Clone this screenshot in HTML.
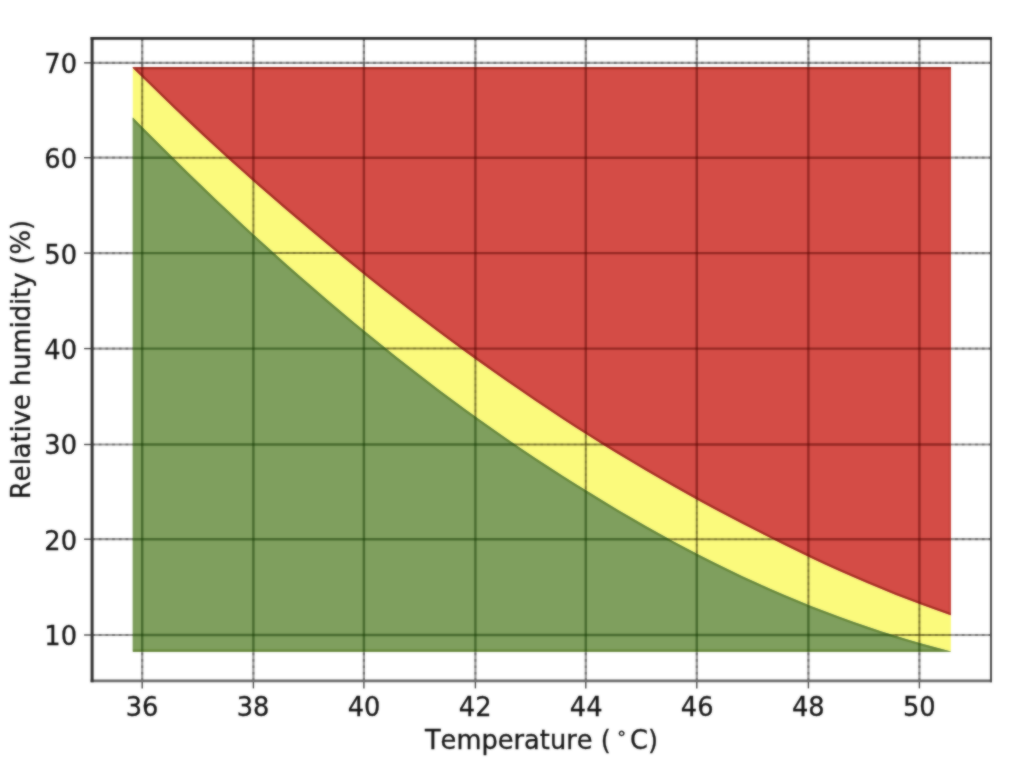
<!DOCTYPE html>
<html lang="en">
<head>
<meta charset="utf-8">
<title>Relative humidity vs temperature</title>
<style>
  html, body { margin: 0; padding: 0; background: #ffffff; }
  body { width: 1024px; height: 768px; overflow: hidden; position: relative; }
  svg { position: absolute; left: 0; top: 0; display: block; }
  text { font-family: "DejaVu Sans", "Liberation Sans", sans-serif; fill: #141414; stroke: #141414; stroke-width: 0.3px; font-kerning: none; }
  .tick { font-size: 25.7px; }
  .lbl { font-size: 25.7px; }
  .gb line { stroke: #000; stroke-opacity: 0.42; stroke-width: 2.2; }
  .gd line { stroke: #000; stroke-opacity: 0.26; stroke-width: 2.2; }
  .gd line.h { stroke-dasharray: 2.7 3.99; }
  .gd line.v { stroke-dasharray: 2.6 3.8; }
  .gy line { stroke: #3c3600; stroke-opacity: 0.58; stroke-width: 2; }
  .gy line.h { stroke: #000; stroke-opacity: 0.14; stroke-dasharray: 2.7 3.99; }
  .gy line.v { stroke: #000; stroke-opacity: 0.14; stroke-dasharray: 2.6 3.8; }
  .gr line { stroke: #560400; stroke-opacity: 0.50; stroke-width: 2.4; }
  .gg line { stroke: #123800; stroke-opacity: 0.50; stroke-width: 2.4; }
  .ticks line { stroke: #444; stroke-width: 1.4; }
  .edges path { fill: none; stroke-linejoin: miter; }
</style>
</head>
<body>
<svg width="1024" height="768" viewBox="0 0 1024 768">
<defs>
<filter id="soft" filterUnits="userSpaceOnUse" x="0" y="0" width="1024" height="768" color-interpolation-filters="sRGB">
<feGaussianBlur in="SourceGraphic" stdDeviation="0.85" result="b"/>
<feComposite in="SourceGraphic" in2="b" operator="arithmetic" k1="0" k2="0.4" k3="0.6" k4="0"/>
</filter>
<clipPath id="cr"><path d="M132.8 67.0 L950.9 67.0 L950.9 615.3 L937.0 610.3 L923.2 605.3 L909.3 600.1 L895.4 594.7 L881.6 589.1 L867.7 583.3 L853.8 577.3 L840.0 571.2 L826.1 564.9 L812.2 558.4 L798.4 551.7 L784.5 545.0 L770.6 538.1 L756.8 531.1 L742.9 524.0 L729.0 516.8 L715.2 509.4 L701.3 501.9 L687.4 494.2 L673.6 486.5 L659.7 478.6 L645.8 470.5 L632.0 462.3 L618.1 454.0 L604.2 445.5 L590.4 436.8 L576.5 428.0 L562.6 419.0 L548.8 409.8 L534.9 400.5 L521.1 391.1 L507.2 381.5 L493.3 371.8 L479.5 361.9 L465.6 351.9 L451.7 341.7 L437.9 331.4 L424.0 321.0 L410.1 310.4 L396.3 299.7 L382.4 288.9 L368.5 277.9 L354.7 266.7 L340.8 255.4 L326.9 244.0 L313.1 232.5 L299.2 220.8 L285.3 209.0 L271.5 197.0 L257.6 184.9 L243.7 172.6 L229.9 160.2 L216.0 147.5 L202.1 134.7 L188.3 121.7 L174.4 108.5 L160.5 95.1 L146.7 81.6 L132.8 67.9 Z"/></clipPath>
<clipPath id="cg"><path d="M132.8 117.4 L146.7 131.5 L160.5 145.3 L174.4 159.1 L188.3 172.7 L202.1 186.1 L216.0 199.4 L229.9 212.5 L243.7 225.4 L257.6 238.2 L271.5 250.8 L285.3 263.3 L299.2 275.6 L313.1 287.6 L326.9 299.6 L340.8 311.3 L354.7 322.9 L368.5 334.3 L382.4 345.6 L396.3 356.7 L410.1 367.6 L424.0 378.3 L437.9 388.9 L451.7 399.3 L465.6 409.5 L479.5 419.5 L493.3 429.3 L507.2 438.9 L521.1 448.4 L534.9 457.7 L548.8 466.8 L562.6 475.7 L576.5 484.5 L590.4 493.1 L604.2 501.6 L618.1 509.9 L632.0 518.0 L645.8 526.0 L659.7 533.8 L673.6 541.4 L687.4 548.8 L701.3 556.0 L715.2 563.0 L729.0 569.8 L742.9 576.4 L756.8 582.8 L770.6 589.0 L784.5 594.9 L798.4 600.8 L812.2 606.4 L826.1 611.8 L840.0 617.0 L853.8 622.0 L867.7 626.8 L881.6 631.4 L895.4 635.8 L909.3 640.0 L923.2 644.0 L937.0 647.8 L950.9 651.4 L950.9 651.8 L132.8 651.8 Z"/></clipPath>
<clipPath id="cy"><path d="M132.8 67.9 L146.7 81.6 L160.5 95.1 L174.4 108.5 L188.3 121.7 L202.1 134.7 L216.0 147.5 L229.9 160.2 L243.7 172.6 L257.6 184.9 L271.5 197.0 L285.3 209.0 L299.2 220.8 L313.1 232.5 L326.9 244.0 L340.8 255.4 L354.7 266.7 L368.5 277.9 L382.4 288.9 L396.3 299.7 L410.1 310.4 L424.0 321.0 L437.9 331.4 L451.7 341.7 L465.6 351.9 L479.5 361.9 L493.3 371.8 L507.2 381.5 L521.1 391.1 L534.9 400.5 L548.8 409.8 L562.6 419.0 L576.5 428.0 L590.4 436.8 L604.2 445.5 L618.1 454.0 L632.0 462.3 L645.8 470.5 L659.7 478.6 L673.6 486.5 L687.4 494.2 L701.3 501.9 L715.2 509.4 L729.0 516.8 L742.9 524.0 L756.8 531.1 L770.6 538.1 L784.5 545.0 L798.4 551.7 L812.2 558.4 L826.1 564.9 L840.0 571.2 L853.8 577.3 L867.7 583.3 L881.6 589.1 L895.4 594.7 L909.3 600.1 L923.2 605.3 L937.0 610.3 L950.9 615.3 L950.9 651.4 L937.0 647.8 L923.2 644.0 L909.3 640.0 L895.4 635.8 L881.6 631.4 L867.7 626.8 L853.8 622.0 L840.0 617.0 L826.1 611.8 L812.2 606.4 L798.4 600.8 L784.5 594.9 L770.6 589.0 L756.8 582.8 L742.9 576.4 L729.0 569.8 L715.2 563.0 L701.3 556.0 L687.4 548.8 L673.6 541.4 L659.7 533.8 L645.8 526.0 L632.0 518.0 L618.1 509.9 L604.2 501.6 L590.4 493.1 L576.5 484.5 L562.6 475.7 L548.8 466.8 L534.9 457.7 L521.1 448.4 L507.2 438.9 L493.3 429.3 L479.5 419.5 L465.6 409.5 L451.7 399.3 L437.9 388.9 L424.0 378.3 L410.1 367.6 L396.3 356.7 L382.4 345.6 L368.5 334.3 L354.7 322.9 L340.8 311.3 L326.9 299.6 L313.1 287.6 L299.2 275.6 L285.3 263.3 L271.5 250.8 L257.6 238.2 L243.7 225.4 L229.9 212.5 L216.0 199.4 L202.1 186.1 L188.3 172.7 L174.4 159.1 L160.5 145.3 L146.7 131.5 L132.8 117.4 Z"/></clipPath>
</defs>
<g filter="url(#soft)">
<rect x="0" y="0" width="1024" height="768" fill="#ffffff"/>
<g class="gb">
<line x1="142.20" y1="680.9" x2="142.20" y2="38.3"/>
<line x1="253.40" y1="680.9" x2="253.40" y2="38.3"/>
<line x1="363.90" y1="680.9" x2="363.90" y2="38.3"/>
<line x1="475.40" y1="680.9" x2="475.40" y2="38.3"/>
<line x1="585.80" y1="680.9" x2="585.80" y2="38.3"/>
<line x1="696.80" y1="680.9" x2="696.80" y2="38.3"/>
<line x1="808.40" y1="680.9" x2="808.40" y2="38.3"/>
<line x1="919.40" y1="680.9" x2="919.40" y2="38.3"/>
<line x1="92.1" y1="62.85" x2="991.0" y2="62.85"/>
<line x1="92.1" y1="157.70" x2="991.0" y2="157.70"/>
<line x1="92.1" y1="253.10" x2="991.0" y2="253.10"/>
<line x1="92.1" y1="348.60" x2="991.0" y2="348.60"/>
<line x1="92.1" y1="444.50" x2="991.0" y2="444.50"/>
<line x1="92.1" y1="539.20" x2="991.0" y2="539.20"/>
<line x1="92.1" y1="635.00" x2="991.0" y2="635.00"/>
</g>
<g class="gd">
<line class="v" x1="142.20" y1="680.9" x2="142.20" y2="38.3"/>
<line class="v" x1="253.40" y1="680.9" x2="253.40" y2="38.3"/>
<line class="v" x1="363.90" y1="680.9" x2="363.90" y2="38.3"/>
<line class="v" x1="475.40" y1="680.9" x2="475.40" y2="38.3"/>
<line class="v" x1="585.80" y1="680.9" x2="585.80" y2="38.3"/>
<line class="v" x1="696.80" y1="680.9" x2="696.80" y2="38.3"/>
<line class="v" x1="808.40" y1="680.9" x2="808.40" y2="38.3"/>
<line class="v" x1="919.40" y1="680.9" x2="919.40" y2="38.3"/>
<line class="h" x1="92.1" y1="62.85" x2="991.0" y2="62.85"/>
<line class="h" x1="92.1" y1="157.70" x2="991.0" y2="157.70"/>
<line class="h" x1="92.1" y1="253.10" x2="991.0" y2="253.10"/>
<line class="h" x1="92.1" y1="348.60" x2="991.0" y2="348.60"/>
<line class="h" x1="92.1" y1="444.50" x2="991.0" y2="444.50"/>
<line class="h" x1="92.1" y1="539.20" x2="991.0" y2="539.20"/>
<line class="h" x1="92.1" y1="635.00" x2="991.0" y2="635.00"/>
</g>
<path d="M132.8 67.9 L146.7 81.6 L160.5 95.1 L174.4 108.5 L188.3 121.7 L202.1 134.7 L216.0 147.5 L229.9 160.2 L243.7 172.6 L257.6 184.9 L271.5 197.0 L285.3 209.0 L299.2 220.8 L313.1 232.5 L326.9 244.0 L340.8 255.4 L354.7 266.7 L368.5 277.9 L382.4 288.9 L396.3 299.7 L410.1 310.4 L424.0 321.0 L437.9 331.4 L451.7 341.7 L465.6 351.9 L479.5 361.9 L493.3 371.8 L507.2 381.5 L521.1 391.1 L534.9 400.5 L548.8 409.8 L562.6 419.0 L576.5 428.0 L590.4 436.8 L604.2 445.5 L618.1 454.0 L632.0 462.3 L645.8 470.5 L659.7 478.6 L673.6 486.5 L687.4 494.2 L701.3 501.9 L715.2 509.4 L729.0 516.8 L742.9 524.0 L756.8 531.1 L770.6 538.1 L784.5 545.0 L798.4 551.7 L812.2 558.4 L826.1 564.9 L840.0 571.2 L853.8 577.3 L867.7 583.3 L881.6 589.1 L895.4 594.7 L909.3 600.1 L923.2 605.3 L937.0 610.3 L950.9 615.3 L950.9 651.4 L937.0 647.8 L923.2 644.0 L909.3 640.0 L895.4 635.8 L881.6 631.4 L867.7 626.8 L853.8 622.0 L840.0 617.0 L826.1 611.8 L812.2 606.4 L798.4 600.8 L784.5 594.9 L770.6 589.0 L756.8 582.8 L742.9 576.4 L729.0 569.8 L715.2 563.0 L701.3 556.0 L687.4 548.8 L673.6 541.4 L659.7 533.8 L645.8 526.0 L632.0 518.0 L618.1 509.9 L604.2 501.6 L590.4 493.1 L576.5 484.5 L562.6 475.7 L548.8 466.8 L534.9 457.7 L521.1 448.4 L507.2 438.9 L493.3 429.3 L479.5 419.5 L465.6 409.5 L451.7 399.3 L437.9 388.9 L424.0 378.3 L410.1 367.6 L396.3 356.7 L382.4 345.6 L368.5 334.3 L354.7 322.9 L340.8 311.3 L326.9 299.6 L313.1 287.6 L299.2 275.6 L285.3 263.3 L271.5 250.8 L257.6 238.2 L243.7 225.4 L229.9 212.5 L216.0 199.4 L202.1 186.1 L188.3 172.7 L174.4 159.1 L160.5 145.3 L146.7 131.5 L132.8 117.4 Z" fill="#fbfa7c"/>
<g class="gy" clip-path="url(#cy)">
<line x1="142.20" y1="680.9" x2="142.20" y2="38.3"/><line class="v" x1="142.20" y1="680.9" x2="142.20" y2="38.3"/>
<line x1="253.40" y1="680.9" x2="253.40" y2="38.3"/><line class="v" x1="253.40" y1="680.9" x2="253.40" y2="38.3"/>
<line x1="363.90" y1="680.9" x2="363.90" y2="38.3"/><line class="v" x1="363.90" y1="680.9" x2="363.90" y2="38.3"/>
<line x1="475.40" y1="680.9" x2="475.40" y2="38.3"/><line class="v" x1="475.40" y1="680.9" x2="475.40" y2="38.3"/>
<line x1="585.80" y1="680.9" x2="585.80" y2="38.3"/><line class="v" x1="585.80" y1="680.9" x2="585.80" y2="38.3"/>
<line x1="696.80" y1="680.9" x2="696.80" y2="38.3"/><line class="v" x1="696.80" y1="680.9" x2="696.80" y2="38.3"/>
<line x1="808.40" y1="680.9" x2="808.40" y2="38.3"/><line class="v" x1="808.40" y1="680.9" x2="808.40" y2="38.3"/>
<line x1="919.40" y1="680.9" x2="919.40" y2="38.3"/><line class="v" x1="919.40" y1="680.9" x2="919.40" y2="38.3"/>
<line x1="92.1" y1="62.85" x2="991.0" y2="62.85"/><line class="h" x1="92.1" y1="62.85" x2="991.0" y2="62.85"/>
<line x1="92.1" y1="157.70" x2="991.0" y2="157.70"/><line class="h" x1="92.1" y1="157.70" x2="991.0" y2="157.70"/>
<line x1="92.1" y1="253.10" x2="991.0" y2="253.10"/><line class="h" x1="92.1" y1="253.10" x2="991.0" y2="253.10"/>
<line x1="92.1" y1="348.60" x2="991.0" y2="348.60"/><line class="h" x1="92.1" y1="348.60" x2="991.0" y2="348.60"/>
<line x1="92.1" y1="444.50" x2="991.0" y2="444.50"/><line class="h" x1="92.1" y1="444.50" x2="991.0" y2="444.50"/>
<line x1="92.1" y1="539.20" x2="991.0" y2="539.20"/><line class="h" x1="92.1" y1="539.20" x2="991.0" y2="539.20"/>
<line x1="92.1" y1="635.00" x2="991.0" y2="635.00"/><line class="h" x1="92.1" y1="635.00" x2="991.0" y2="635.00"/>
</g>
<path d="M132.8 117.4 L146.7 131.5 L160.5 145.3 L174.4 159.1 L188.3 172.7 L202.1 186.1 L216.0 199.4 L229.9 212.5 L243.7 225.4 L257.6 238.2 L271.5 250.8 L285.3 263.3 L299.2 275.6 L313.1 287.6 L326.9 299.6 L340.8 311.3 L354.7 322.9 L368.5 334.3 L382.4 345.6 L396.3 356.7 L410.1 367.6 L424.0 378.3 L437.9 388.9 L451.7 399.3 L465.6 409.5 L479.5 419.5 L493.3 429.3 L507.2 438.9 L521.1 448.4 L534.9 457.7 L548.8 466.8 L562.6 475.7 L576.5 484.5 L590.4 493.1 L604.2 501.6 L618.1 509.9 L632.0 518.0 L645.8 526.0 L659.7 533.8 L673.6 541.4 L687.4 548.8 L701.3 556.0 L715.2 563.0 L729.0 569.8 L742.9 576.4 L756.8 582.8 L770.6 589.0 L784.5 594.9 L798.4 600.8 L812.2 606.4 L826.1 611.8 L840.0 617.0 L853.8 622.0 L867.7 626.8 L881.6 631.4 L895.4 635.8 L909.3 640.0 L923.2 644.0 L937.0 647.8 L950.9 651.4 L950.9 651.8 L132.8 651.8 Z" fill="#7f9f5e"/>
<path d="M132.8 67.0 L950.9 67.0 L950.9 615.3 L937.0 610.3 L923.2 605.3 L909.3 600.1 L895.4 594.7 L881.6 589.1 L867.7 583.3 L853.8 577.3 L840.0 571.2 L826.1 564.9 L812.2 558.4 L798.4 551.7 L784.5 545.0 L770.6 538.1 L756.8 531.1 L742.9 524.0 L729.0 516.8 L715.2 509.4 L701.3 501.9 L687.4 494.2 L673.6 486.5 L659.7 478.6 L645.8 470.5 L632.0 462.3 L618.1 454.0 L604.2 445.5 L590.4 436.8 L576.5 428.0 L562.6 419.0 L548.8 409.8 L534.9 400.5 L521.1 391.1 L507.2 381.5 L493.3 371.8 L479.5 361.9 L465.6 351.9 L451.7 341.7 L437.9 331.4 L424.0 321.0 L410.1 310.4 L396.3 299.7 L382.4 288.9 L368.5 277.9 L354.7 266.7 L340.8 255.4 L326.9 244.0 L313.1 232.5 L299.2 220.8 L285.3 209.0 L271.5 197.0 L257.6 184.9 L243.7 172.6 L229.9 160.2 L216.0 147.5 L202.1 134.7 L188.3 121.7 L174.4 108.5 L160.5 95.1 L146.7 81.6 L132.8 67.9 Z" fill="#d44c46"/>
<g class="edges">
<path clip-path="url(#cg)" d="M132.8 651.8 L132.8 117.4" stroke="#7b9c5a" stroke-width="4.4"/>
<path clip-path="url(#cg)" d="M132.8 117.4 L146.7 131.5 L160.5 145.3 L174.4 159.1 L188.3 172.7 L202.1 186.1 L216.0 199.4 L229.9 212.5 L243.7 225.4 L257.6 238.2 L271.5 250.8 L285.3 263.3 L299.2 275.6 L313.1 287.6 L326.9 299.6 L340.8 311.3 L354.7 322.9 L368.5 334.3 L382.4 345.6 L396.3 356.7 L410.1 367.6 L424.0 378.3 L437.9 388.9 L451.7 399.3 L465.6 409.5 L479.5 419.5 L493.3 429.3 L507.2 438.9 L521.1 448.4 L534.9 457.7 L548.8 466.8 L562.6 475.7 L576.5 484.5 L590.4 493.1 L604.2 501.6 L618.1 509.9 L632.0 518.0 L645.8 526.0 L659.7 533.8 L673.6 541.4 L687.4 548.8 L701.3 556.0 L715.2 563.0 L729.0 569.8 L742.9 576.4 L756.8 582.8 L770.6 589.0 L784.5 594.9 L798.4 600.8 L812.2 606.4 L826.1 611.8 L840.0 617.0 L853.8 622.0 L867.7 626.8 L881.6 631.4 L895.4 635.8 L909.3 640.0 L923.2 644.0 L937.0 647.8 L950.9 651.4 L950.9 651.8 L132.8 651.8" stroke="#66873a" stroke-width="4.4"/>
<path clip-path="url(#cr)" d="M950.9 67.0 L950.9 615.3" stroke="#c8463e" stroke-width="4.4"/>
<path clip-path="url(#cr)" d="M950.9 615.3 L937.0 610.3 L923.2 605.3 L909.3 600.1 L895.4 594.7 L881.6 589.1 L867.7 583.3 L853.8 577.3 L840.0 571.2 L826.1 564.9 L812.2 558.4 L798.4 551.7 L784.5 545.0 L770.6 538.1 L756.8 531.1 L742.9 524.0 L729.0 516.8 L715.2 509.4 L701.3 501.9 L687.4 494.2 L673.6 486.5 L659.7 478.6 L645.8 470.5 L632.0 462.3 L618.1 454.0 L604.2 445.5 L590.4 436.8 L576.5 428.0 L562.6 419.0 L548.8 409.8 L534.9 400.5 L521.1 391.1 L507.2 381.5 L493.3 371.8 L479.5 361.9 L465.6 351.9 L451.7 341.7 L437.9 331.4 L424.0 321.0 L410.1 310.4 L396.3 299.7 L382.4 288.9 L368.5 277.9 L354.7 266.7 L340.8 255.4 L326.9 244.0 L313.1 232.5 L299.2 220.8 L285.3 209.0 L271.5 197.0 L257.6 184.9 L243.7 172.6 L229.9 160.2 L216.0 147.5 L202.1 134.7 L188.3 121.7 L174.4 108.5 L160.5 95.1 L146.7 81.6 L132.8 67.9 L132.8 67.0 L950.9 67.0" stroke="#a42c22" stroke-width="4.4"/>
</g>
<g class="gr" clip-path="url(#cr)">
<line x1="142.20" y1="680.9" x2="142.20" y2="38.3"/>
<line x1="253.40" y1="680.9" x2="253.40" y2="38.3"/>
<line x1="363.90" y1="680.9" x2="363.90" y2="38.3"/>
<line x1="475.40" y1="680.9" x2="475.40" y2="38.3"/>
<line x1="585.80" y1="680.9" x2="585.80" y2="38.3"/>
<line x1="696.80" y1="680.9" x2="696.80" y2="38.3"/>
<line x1="808.40" y1="680.9" x2="808.40" y2="38.3"/>
<line x1="919.40" y1="680.9" x2="919.40" y2="38.3"/>
<line x1="92.1" y1="62.85" x2="991.0" y2="62.85"/>
<line x1="92.1" y1="157.70" x2="991.0" y2="157.70"/>
<line x1="92.1" y1="253.10" x2="991.0" y2="253.10"/>
<line x1="92.1" y1="348.60" x2="991.0" y2="348.60"/>
<line x1="92.1" y1="444.50" x2="991.0" y2="444.50"/>
<line x1="92.1" y1="539.20" x2="991.0" y2="539.20"/>
<line x1="92.1" y1="635.00" x2="991.0" y2="635.00"/>
</g>
<g class="gg" clip-path="url(#cg)">
<line x1="142.20" y1="680.9" x2="142.20" y2="38.3"/>
<line x1="253.40" y1="680.9" x2="253.40" y2="38.3"/>
<line x1="363.90" y1="680.9" x2="363.90" y2="38.3"/>
<line x1="475.40" y1="680.9" x2="475.40" y2="38.3"/>
<line x1="585.80" y1="680.9" x2="585.80" y2="38.3"/>
<line x1="696.80" y1="680.9" x2="696.80" y2="38.3"/>
<line x1="808.40" y1="680.9" x2="808.40" y2="38.3"/>
<line x1="919.40" y1="680.9" x2="919.40" y2="38.3"/>
<line x1="92.1" y1="62.85" x2="991.0" y2="62.85"/>
<line x1="92.1" y1="157.70" x2="991.0" y2="157.70"/>
<line x1="92.1" y1="253.10" x2="991.0" y2="253.10"/>
<line x1="92.1" y1="348.60" x2="991.0" y2="348.60"/>
<line x1="92.1" y1="444.50" x2="991.0" y2="444.50"/>
<line x1="92.1" y1="539.20" x2="991.0" y2="539.20"/>
<line x1="92.1" y1="635.00" x2="991.0" y2="635.00"/>
</g>
<g class="ticks">
<line x1="142.20" y1="680.9" x2="142.20" y2="688.4"/>
<line x1="253.40" y1="680.9" x2="253.40" y2="688.4"/>
<line x1="363.90" y1="680.9" x2="363.90" y2="688.4"/>
<line x1="475.40" y1="680.9" x2="475.40" y2="688.4"/>
<line x1="585.80" y1="680.9" x2="585.80" y2="688.4"/>
<line x1="696.80" y1="680.9" x2="696.80" y2="688.4"/>
<line x1="808.40" y1="680.9" x2="808.40" y2="688.4"/>
<line x1="919.40" y1="680.9" x2="919.40" y2="688.4"/>
<line x1="84.1" y1="62.85" x2="92.1" y2="62.85"/>
<line x1="84.1" y1="157.70" x2="92.1" y2="157.70"/>
<line x1="84.1" y1="253.10" x2="92.1" y2="253.10"/>
<line x1="84.1" y1="348.60" x2="92.1" y2="348.60"/>
<line x1="84.1" y1="444.50" x2="92.1" y2="444.50"/>
<line x1="84.1" y1="539.20" x2="92.1" y2="539.20"/>
<line x1="84.1" y1="635.00" x2="92.1" y2="635.00"/>
</g>
<g class="frame">
<line x1="90.6" y1="680.9" x2="992.0" y2="680.9" stroke="#6a6a6a" stroke-width="2.6"/>
<line x1="991.0" y1="37.0" x2="991.0" y2="682.1999999999999" stroke="#484848" stroke-width="2"/>
<line x1="92.1" y1="37.0" x2="92.1" y2="682.1999999999999" stroke="#303030" stroke-width="3"/>
<line x1="90.6" y1="38.3" x2="992.0" y2="38.3" stroke="#262626" stroke-width="2.8"/>
</g>
<g class="tick" text-anchor="middle">
<text x="142.10" y="715.8">36</text>
<text x="253.12" y="715.8">38</text>
<text x="364.14" y="715.8">40</text>
<text x="475.16" y="715.8">42</text>
<text x="586.18" y="715.8">44</text>
<text x="697.20" y="715.8">46</text>
<text x="808.22" y="715.8">48</text>
<text x="919.24" y="715.8">50</text>
</g>
<g class="tick" text-anchor="end">
<text x="77" y="72.95">70</text>
<text x="77" y="168.32">60</text>
<text x="77" y="263.69">50</text>
<text x="77" y="359.06">40</text>
<text x="77" y="454.43">30</text>
<text x="77" y="549.80">20</text>
<text x="77" y="645.17">10</text>
</g>
<text class="lbl" x="424.9" y="749.4">Temperature (<tspan x="616" dy="-10" font-size="18.2px">∘</tspan><tspan x="630" dy="10">C)</tspan></text>
<text class="lbl" text-anchor="middle" transform="translate(30.3 359.5) rotate(-90)">Relative humidity (%)</text>
</g>
</svg>
</body>
</html>
